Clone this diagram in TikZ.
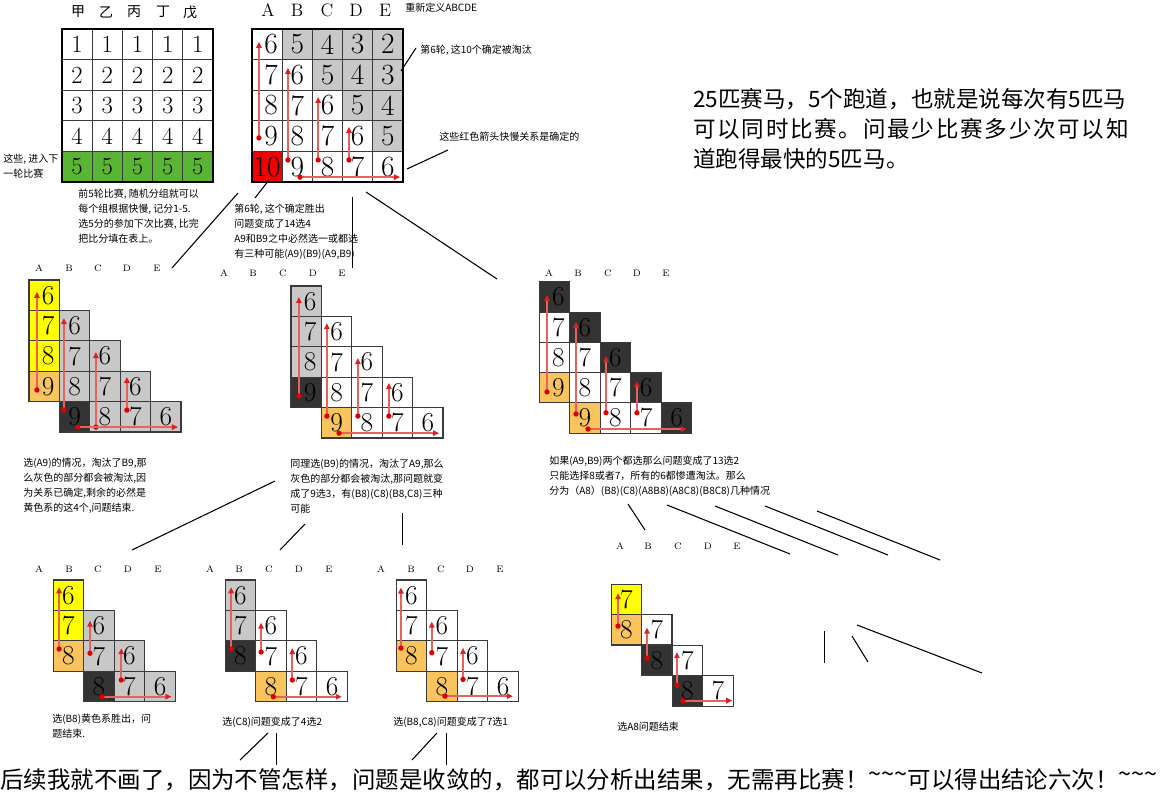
\documentclass[tikz,border=0pt]{standalone}
\usepackage{fontspec}
\newfontfamily\cjk{Noto Sans CJK SC}
\usetikzlibrary{arrows.meta}
\definecolor{gridc}{HTML}{3A3A3A}
\definecolor{yel}{HTML}{FFFF00}
\definecolor{org}{HTML}{F9C35D}
\definecolor{drk}{HTML}{333333}
\definecolor{gry}{HTML}{C8C8C8}
\definecolor{grn}{HTML}{5BB534}
\definecolor{redc}{HTML}{F00000}
\definecolor{arrc}{HTML}{E86060}
\definecolor{arrh}{HTML}{E02020}
\definecolor{dotc}{HTML}{E00000}
\newcommand\VA[3]{\draw[rarr] (#1,#2) -- (#1,#3); \fill[dotc] (#1,#2) circle[radius=2pt];}
\newcommand\HA[3]{\draw[rarr] (#1,#3) -- (#2,#3); \fill[dotc] (#1,#3) circle[radius=2pt];}
\newcommand\Hdr[7]{\node[hdr] (#1a) at (#3,#2) {A};\node[hdr] (#1b) at (#4,#2) {B};\node[hdr] (#1c) at (#5,#2) {C};\node[hdr] (#1d) at (#6,#2) {D};\node[hdr] (#1e) at (#7,#2) {E};}
\newcommand\shA{\ifnum\c=0 \hspace*{6pt}\fi}
\newcommand\tld{\raisebox{0.25em}{\textasciitilde}}
\tikzset{
 cellT/.style={draw=gridc, line width=0.8pt, minimum width=22.65pt, minimum height=22.95pt, inner sep=0pt, font=\fontsize{18.5}{18.5}\selectfont},
 cellM/.style={cellT, font=\fontsize{22}{22}\selectfont},
 cellS/.style={draw=gridc, line width=0.8pt, minimum width=22.8pt, minimum height=22.8pt, inner sep=0pt, font=\fontsize{20.5}{20.5}\selectfont},
 rarr/.style={draw=arrc, line width=1.3pt, -{Triangle[length=4.5pt,width=4pt,color=arrh]}},
 conn/.style={draw=black, line width=0.8pt},
 txt/.style={font=\cjk\fontsize{7.5}{11.2}\selectfont, inner sep=0pt, align=left, anchor=north west},
 txtw/.style={font=\cjk\fontsize{7.5}{11.2}\selectfont, inner sep=0pt, anchor=west},
 hdr/.style={font=\fontsize{7}{7}\selectfont, inner sep=0pt},
 big/.style={font=\cjk\fontsize{16.9}{20}\selectfont, inner sep=0pt, anchor=west},
}
\begin{document}
\begin{tikzpicture}[x=0.75pt,y=-0.75pt]
\useasboundingbox (0,0) rectangle (1174,799);
\fill[white] (0,0) rectangle (1174,799);

% ---------- top-left grid ----------
\node[font=\cjk\fontsize{10.5}{12}\selectfont, inner sep=0pt] (h1) at (78,12) {甲};
\node[font=\cjk\fontsize{10.5}{12}\selectfont, inner sep=0pt] (h2) at (106,12) {乙};
\node[font=\cjk\fontsize{10.5}{12}\selectfont, inner sep=0pt] (h3) at (134,12) {丙};
\node[font=\cjk\fontsize{10.5}{12}\selectfont, inner sep=0pt] (h4) at (163,12) {丁};
\node[font=\cjk\fontsize{10.5}{12}\selectfont, inner sep=0pt] (h5) at (190,12) {戊};
\begin{scope}[shift={(62,29)}, x=22.65pt, y=-22.95pt]
\foreach \c in {0,...,4}{%
 \foreach \r in {0,...,3}{\pgfmathtruncatemacro\v{\r+1}\node[cellT,fill=white] (A-\c-\r) at (\c+0.5,\r+0.5) {\v};}
 \node[cellT,fill=grn] (A-\c-4) at (\c+0.5,4.5) {5};}
\draw[black,line width=0.9pt] (0,0) rectangle (5,5);
\end{scope}
\node[txt] (lbl1) at (3,154) {这些, 进入下\\一轮比赛};
\node[txt] (lbl2) at (78,189) {前5轮比赛, 随机分组就可以\\每个组根据快慢, 记分1-5.\\选5分的参加下次比赛, 比完\\把比分填在表上。};

% ---------- top-middle grid ----------
\node[font=\fontsize{13.5}{14}\selectfont, inner sep=0pt] (HA) at (268,10) {A};
\node[font=\fontsize{13.5}{14}\selectfont, inner sep=0pt] (HB) at (297,10) {B};
\node[font=\fontsize{13.5}{14}\selectfont, inner sep=0pt] (HC) at (327,10) {C};
\node[font=\fontsize{13.5}{14}\selectfont, inner sep=0pt] (HD) at (356,10) {D};
\node[font=\fontsize{13.5}{14}\selectfont, inner sep=0pt] (HE) at (385,10) {E};
\node[txtw] (redef) at (405,8) {重新定义ABCDE};
\begin{scope}[shift={(252,29)}, x=22.65pt, y=-22.95pt]
\foreach \c in {0,...,4}{\foreach \r in {0,...,4}{%
 \pgfmathtruncatemacro\v{6+\r-\c}%
 \ifnum\c>\r \def\f{gry}\else\def\f{white}\fi
 \ifnum\c=0 \ifnum\r=4 \def\f{redc}\fi\fi
 \node[cellM,fill=\f] (M-\c-\r) at (\c+0.5,\r+0.5) {\ifnum\r<4 \shA\fi\v};}}
\draw[black,line width=0.9pt] (0,0) rectangle (5,5);
\VA{0.23}{3.56}{0.42}
\VA{1.19}{4.28}{1.27}
\VA{2.19}{4.28}{2.22}
\VA{3.21}{4.28}{3.2}
\HA{1.59}{4.9}{4.84}
\end{scope}
\node[txtw] (elim) at (420,50) {第6轮, 这10个确定被淘汰};
\node[txtw] (redl) at (439,137) {这些红色箭头快慢关系是确定的};
\node[txt] (win) at (234,204) {第6轮, 这个确定胜出\\问题变成了14选4\\A9和B9之中必然选一或都选\\有三种可能(A9)(B9)(A9,B9)};

% ---------- question ----------
\node[big] (q1) at (693,99) {25匹赛马，5个跑道，也就是说每次有5匹马};
\node[big] (q2) at (693,129) {\addfontfeature{LetterSpace=7.8}可以同时比赛。问最少比赛多少次可以知};
\node[big] (q3) at (693,159) {道跑得最快的5匹马。};

% ---------- connectors ----------
\draw[conn] (172,268) -- (238,193);
\draw[conn] (255,198) -- (269,180);
\draw[conn] (352.5,197) -- (352.5,268);
\draw[conn] (366,192) -- (497,279);
\draw[conn] (401,71) -- (416,48);
\draw[conn] (407,169) -- (448,150);
\draw[conn] (132,550) -- (275,481);
\draw[conn] (280,550) -- (305,524);
\draw[conn] (402.5,513) -- (402.5,545);
\draw[conn] (628,504) -- (645,530);
\draw[conn] (667,505) -- (790,554);
\draw[conn] (715,506) -- (838,555);
\draw[conn] (765,506) -- (888,555);
\draw[conn] (817,511) -- (940,560);
\draw[conn] (824.5,631) -- (824.5,663);
\draw[conn] (852,636) -- (868,662);
\draw[conn] (857,625) -- (982,673);
\draw[conn] (240,760) -- (268,733);
\draw[conn] (276.5,733) -- (276.5,765);
\draw[conn] (412,760) -- (437,733);
\draw[conn] (446.5,733) -- (446.5,765);

% ---------- second row: left ----------
\Hdr{La}{268}{39}{69}{98}{127}{157}
\begin{scope}[shift={(29,280)}, x=22.8pt, y=-22.8pt]
\foreach \c/\r/\f in {0/0/yel,0/1/yel,0/2/yel,0/3/org,1/1/gry,1/2/gry,1/3/gry,1/4/drk,2/2/gry,2/3/gry,2/4/gry,3/3/gry,3/4/gry,4/4/gry}{%
 \pgfmathtruncatemacro\v{6+\r-\c}\node[cellS,fill=\f] (P-\c-\r) at (\c+0.5,\r+0.5) {\shA\v};}
\VA{0.26}{3.62}{0.39}
\VA{1.15}{4.28}{1.25}
\VA{2.2}{4.84}{2.37}
\VA{3.22}{4.28}{3.19}
\HA{1.6}{4.9}{4.84}
\end{scope}
\node[txt] (ta) at (23,458) {选(A9)的情况，淘汰了B9,那\\么灰色的部分都会被淘汰,因\\为关系已确定,剩余的必然是\\黄色系的这4个,问题结束.};

% ---------- second row: middle ----------
\Hdr{Ma}{273}{224}{253}{283}{313}{342}
\begin{scope}[shift={(291,286)}, x=22.8pt, y=-22.8pt]
\foreach \c/\r/\f in {0/0/gry,0/1/gry,0/2/gry,0/3/drk,1/1/white,1/2/white,1/3/white,1/4/org,2/2/white,2/3/white,2/4/white,3/3/white,3/4/white,4/4/white}{%
 \pgfmathtruncatemacro\v{6+\r-\c}\node[cellS,fill=\f] (Q-\c-\r) at (\c+0.5,\r+0.5) {\shA\v};}
\VA{0.26}{3.62}{0.36}
\VA{1.18}{4.28}{1.22}
\VA{2.2}{4.28}{2.37}
\VA{3.22}{4.28}{3.19}
\HA{1.58}{4.87}{4.84}
\end{scope}
\node[txt] (tb) at (290,459) {同理选(B9)的情况，淘汰了A9,那么\\灰色的部分都会被淘汰,那问题就变\\成了9选3，有(B8)(C8)(B8,C8)三种\\可能};

% ---------- second row: right ----------
\Hdr{Ra}{273}{549}{578}{608}{637}{666}
\begin{scope}[shift={(539,282)}, x=22.95pt, y=-22.65pt]
\foreach \c/\r/\f in {0/0/drk,0/1/white,0/2/white,0/3/org,1/1/drk,1/2/white,1/3/white,1/4/org,2/2/drk,2/3/white,2/4/white,3/3/drk,3/4/white,4/4/drk}{%
 \pgfmathtruncatemacro\v{6+\r-\c}\node[cellS,fill=\f] (R-\c-\r) at (\c+0.5,\r+0.5) {\shA\v};}
\VA{0.26}{3.64}{0.43}
\VA{1.21}{4.37}{1.32}
\VA{2.19}{4.33}{2.45}
\VA{3.2}{4.33}{3.28}
\HA{1.6}{4.83}{4.87}
\end{scope}
\node[txt] (tc) at (549,456) {如果(A9,B9)两个都选那么问题变成了13选2\\只能选择8或者7，所有的6都惨遭淘汰。那么\\分为（A8）(B8)(C8)(A8B8)(A8C8)(B8C8)几种情况};

% ---------- bottom row ----------
\Hdr{Ba}{569}{39}{69}{98}{128}{158}
\begin{scope}[shift={(53,580)}, x=22.95pt, y=-22.8pt]
\foreach \c/\r/\f in {0/0/yel,0/1/yel,0/2/org,1/1/gry,1/2/gry,1/3/drk,2/2/gry,2/3/gry,3/3/gry}{%
 \pgfmathtruncatemacro\v{6+\r-\c}\node[cellS,fill=\f] (S-\c-\r) at (\c+0.5,\r+0.5) {\v};}
\VA{0.2}{2.27}{0.24}
\VA{1.21}{2.41}{1.34}
\VA{2.23}{3.29}{2.24}
\HA{1.6}{3.87}{3.84}
\end{scope}
\node[txt] (td) at (52,714) {选(B8)黄色系胜出，问\\题结束.};

\Hdr{Bb}{569}{210}{239}{269}{299}{329}
\begin{scope}[shift={(225,580)}, x=22.95pt, y=-22.8pt]
\foreach \c/\r/\f in {0/0/gry,0/1/gry,0/2/drk,1/1/white,1/2/white,1/3/org,2/2/white,2/3/white,3/3/white}{%
 \pgfmathtruncatemacro\v{6+\r-\c}\node[cellS,fill=\f] (U-\c-\r) at (\c+0.5,\r+0.5) {\v};}
\VA{0.2}{2.27}{0.24}
\VA{1.18}{2.37}{1.4}
\VA{2.2}{3.29}{2.24}
\HA{1.58}{3.82}{3.84}
\end{scope}
\node[txtw] (te) at (222,722) {选(C8)问题变成了4选2};

\Hdr{Bc}{569}{381}{411}{441}{470}{500}
\begin{scope}[shift={(396,580)}, x=22.95pt, y=-22.8pt]
\foreach \c/\r/\f in {0/0/white,0/1/white,0/2/org,1/1/white,1/2/white,1/3/org,2/2/white,2/3/white,3/3/white}{%
 \pgfmathtruncatemacro\v{6+\r-\c}\node[cellS,fill=\f] (V-\c-\r) at (\c+0.5,\r+0.5) {\v};}
\VA{0.16}{2.24}{0.25}
\VA{1.17}{2.39}{1.37}
\VA{2.19}{3.27}{2.23}
\HA{1.6}{3.82}{3.82}
\end{scope}
\node[txtw] (tf) at (393,722) {选(B8,C8)问题变成了7选1};

\Hdr{Bd}{546}{620}{648}{678}{708}{737}
\begin{scope}[shift={(611,584)}, x=22.9pt, y=-22.9pt]
\foreach \c/\r/\f in {0/0/yel,0/1/org,1/1/white,1/2/drk,2/2/white,2/3/drk,3/3/white}{%
 \pgfmathtruncatemacro\v{7+\r-\c}\node[cellS,fill=\f] (W-\c-\r) at (\c+0.5,\r+0.5) {\v};}
\VA{0.23}{1.38}{0.3}
\VA{1.18}{2.43}{1.43}
\VA{2.16}{3.32}{2.23}
\HA{2.36}{3.97}{3.82}
\end{scope}
\node[txtw] (tg) at (617,727) {选A8问题结束};

% ---------- closing line ----------
\node[font=\cjk\fontsize{17.6}{20}\selectfont, inner sep=0pt, anchor=west] (fin) at (0,780) {后续我就不画了，因为不管怎样，问题是收敛的，都可以分析出结果，无需再比赛！\tld\tld\tld 可以得出结论六次！\tld\tld\tld};
\end{tikzpicture}
\end{document}
